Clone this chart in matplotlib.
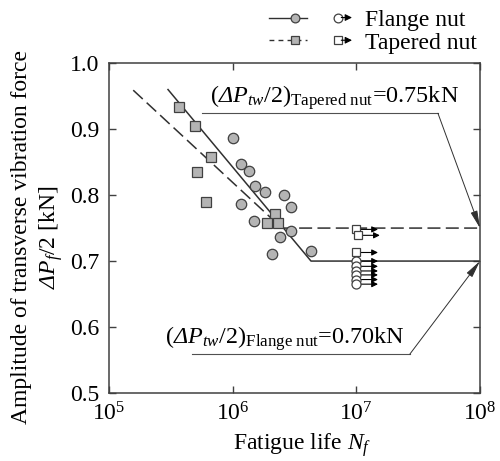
import numpy as np
import matplotlib
matplotlib.use('Agg')
import matplotlib.pyplot as plt
from matplotlib.lines import Line2D
from matplotlib.patches import FancyArrowPatch
from matplotlib.legend_handler import HandlerBase
from matplotlib.ticker import FormatStrFormatter, NullLocator

plt.rcParams['font.family'] = 'Liberation Serif'
plt.rcParams['mathtext.fontset'] = 'custom'
plt.rcParams['mathtext.rm'] = 'Liberation Serif'
plt.rcParams['mathtext.it'] = 'Liberation Serif:italic'
plt.rcParams['mathtext.sf'] = 'Liberation Serif:italic'
plt.rcParams['font.size'] = 17

############## data ###############################################
# flange nut, failed specimens
flange_N = [1.01e6, 1.16e6, 1.36e6, 1.51e6, 1.82e6, 2.61e6, 1.17e6,
            2.94e6, 1.49e6, 2.96e6, 2.41e6, 2.08e6, 4.30e6]
flange_P = [0.887, 0.847, 0.837, 0.814, 0.805, 0.800, 0.786,
            0.782, 0.761, 0.746, 0.736, 0.710, 0.716]
# flange nut, run-outs
flange_run_N = [1e7, 1e7, 1e7, 1e7, 1e7, 1e7]
flange_run_P = [0.700, 0.692, 0.685, 0.679, 0.672, 0.665]

# tapered nut, failed specimens
tapered_N = [3.70e5, 4.93e5, 6.69e5, 5.12e5, 6.08e5, 2.20e6, 1.91e6, 2.31e6]
tapered_P = [0.934, 0.904, 0.858, 0.835, 0.789, 0.771, 0.757, 0.758]
# tapered nut, run-outs
tapered_run_N = [1e7, 1.035e7, 1e7]
tapered_run_P = [0.748, 0.739, 0.713]

# fitted S-N lines (knee then fatigue limit)
flange_fit_N = [3.0e5, 4.3e6, 1e8]
flange_fit_P = [0.960, 0.70, 0.70]
tapered_fit_N = [1.57e5, 2.5e6, 1e8]
tapered_fit_P = [0.959, 0.75, 0.75]

flange_limit = 0.70
tapered_limit = 0.75

line_col = '#303030'
fill_col = '#b4b4b4'
edge_col = '#404040'


class RunoutHandler(HandlerBase):
    # legend entry: line with marker, then open marker with arrow
    def create_artists(self, legend, orig_handle, xdescent, ydescent,
                       width, height, fontsize, trans):
        y = height / 2 - ydescent
        x0 = -xdescent
        mk = orig_handle.get_marker()
        ln = Line2D([x0, x0 + 0.46 * width], [y, y], color=line_col, lw=1.0)
        if orig_handle.get_linestyle() == '--':
            ln.set_dashes((3.5, 3.0))
        m1 = Line2D([x0 + 0.31 * width], [y], ls='none', marker=mk, ms=6.3,
                    mfc=fill_col, mec=edge_col, mew=0.9)
        m2 = Line2D([x0 + 0.83 * width], [y], ls='none', marker=mk, ms=6.3,
                    mfc='white', mec=edge_col, mew=0.9)
        arr = FancyArrowPatch((x0 + 0.87 * width, y), (x0 + width, y),
                              arrowstyle='-|>', mutation_scale=10,
                              color='k', lw=0.8, shrinkA=0, shrinkB=0)
        out = [ln, m1, m2, arr]
        for a in out:
            a.set_transform(trans)
        return out


fig = plt.figure(figsize=(5, 4.61), dpi=100)
ax = fig.add_axes([0.218, 0.1475, 0.742, 0.7155])

# fitted lines
ax.plot(flange_fit_N, flange_fit_P, '-', color=line_col, lw=1.1)
ax.plot(tapered_fit_N, tapered_fit_P, color=line_col, lw=1.1, dashes=(8.5, 3.5))

# failed specimens
ax.plot(flange_N, flange_P, 'o', ms=7.5, mfc=fill_col, mec=edge_col, mew=0.9)
ax.plot(tapered_N, tapered_P, 's', ms=6.5, mfc=fill_col, mec=edge_col, mew=0.9)

# run-outs with arrows
ax.plot(tapered_run_N, tapered_run_P, 's', ms=6, mfc='white', mec=edge_col, mew=0.9, zorder=4)
ax.plot(flange_run_N, flange_run_P, 'o', ms=6.5, mfc='white', mec=edge_col, mew=0.9, zorder=4)
for n, p in zip(tapered_run_N + flange_run_N, tapered_run_P + flange_run_P):
    ax.annotate('', xy=(n * 10**0.175, p), xytext=(n * 10**0.03, p),
                arrowprops=dict(arrowstyle='-|>', color='k', lw=0.8,
                                mutation_scale=9, shrinkA=0, shrinkB=0))

# fatigue limit callouts
ann_col = '#505050'
ann_arrow = dict(arrowstyle='-|>,head_length=0.75,head_width=0.15',
                 color='#303030', lw=0.7, mutation_scale=14,
                 shrinkA=0, shrinkB=0)
ax.plot([5.65e5, 4.57e7], [0.924, 0.924], color=ann_col, lw=0.8)
ax.annotate('', xy=(1e8, tapered_limit), xytext=(4.57e7, 0.924),
            arrowprops=ann_arrow)
ax.text(6.6e5, 0.926, r'$(\mathsf{\Delta P_{tw}}/2)_{\mathrm{Tapered\ nut}}$=0.75kN',
        ha='left', va='bottom', fontsize=17.4)

ax.plot([4.69e5, 2.71e7], [0.559, 0.559], color=ann_col, lw=0.8)
ax.annotate('', xy=(1e8, flange_limit), xytext=(2.71e7, 0.559),
            arrowprops=ann_arrow)
ax.text(2.84e5, 0.561, r'$(\mathsf{\Delta P_{tw}}/2)_{\mathrm{Flange\ nut}}$=0.70kN',
        ha='left', va='bottom', fontsize=17.4)

# axes
ax.set_xscale('log')
ax.set_xlim(1e5, 1e8)
ax.set_ylim(0.5, 1.0)
ax.set_yticks(np.arange(0.5, 1.01, 0.1))
ax.yaxis.set_major_formatter(FormatStrFormatter('%.1f'))
ax.xaxis.set_minor_locator(NullLocator())
ax.tick_params(direction='in', top=True, right=True, length=5, width=1,
               color=edge_col, pad=7)
for s in ax.spines.values():
    s.set_color(edge_col)
    s.set_linewidth(1.1)

ax.set_xlabel('Fatigue life $N_f$')
ax.xaxis.set_label_coords(0.52, -0.117)
ax.set_ylabel('Amplitude of transverse vibration force\n$\\mathsf{\\Delta P_f}$/2 [kN]',
              linespacing=1.3)
ax.yaxis.set_label_coords(-0.118, 0.473)

# legend above the axes
flange_proxy = Line2D([], [], ls='-', marker='o')
tapered_proxy = Line2D([], [], ls='--', marker='s')
fig.legend([flange_proxy, tapered_proxy], ['Flange nut', 'Tapered nut'],
           handler_map={flange_proxy: RunoutHandler(), tapered_proxy: RunoutHandler()},
           loc='upper left', bbox_to_anchor=(0.534, 0.985), frameon=False,
           borderpad=0.1, borderaxespad=0, handlelength=3.5,
           handletextpad=0.55, labelspacing=0.05)

fig.savefig('out.png', dpi=100)
